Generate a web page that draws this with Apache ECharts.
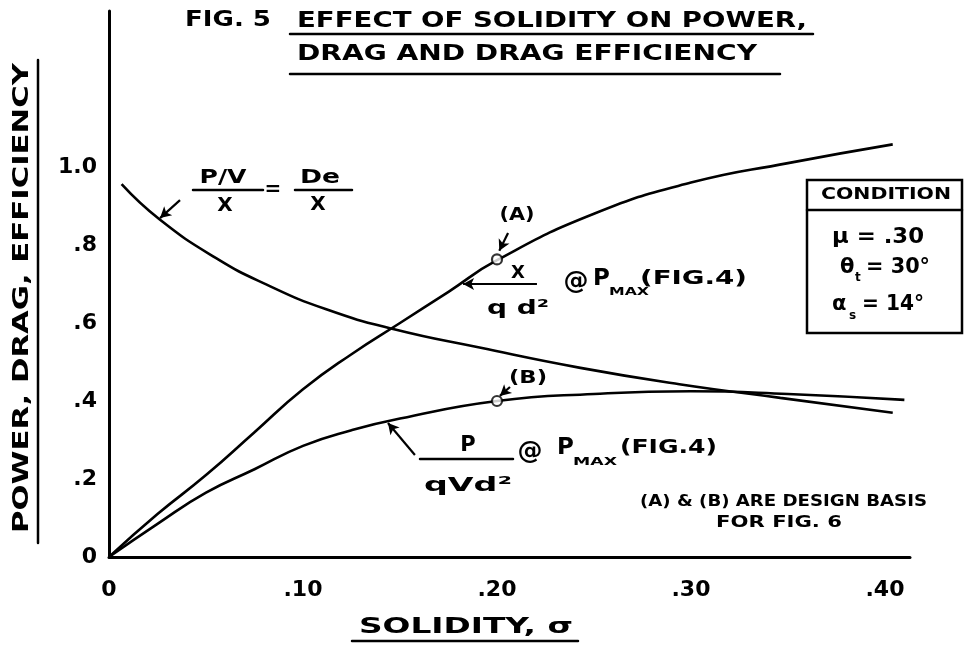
<!DOCTYPE html>
<html><head><meta charset="utf-8">
<script src="https://cdn.jsdelivr.net/npm/echarts@6/dist/echarts.min.js"></script>
<style>html,body{margin:0;padding:0;background:#fff}#c{width:965px;height:649px}</style>
</head><body><div id="c"></div>
<script>
// ---- tick labels ----
const xTicks = [0, 0.1, 0.2, 0.3, 0.4];
const xTickLabels = ['0', '.10', '.20', '.30', '.40'];
const yTicks = [0, 0.2, 0.4, 0.6, 0.8, 1.0];
const yTickLabels = ['0', '.2', '.4', '.6', '.8', '1.0'];

// ---- X / q d^2 @ Pmax (rising curve) ----
const solidityThrust = [0, 0.025, 0.05, 0.075, 0.1, 0.125, 0.15, 0.175, 0.2, 0.25, 0.3, 0.35, 0.404];
const thrustValues   = [0, 0.11, 0.21, 0.32, 0.43, 0.52, 0.60, 0.68, 0.761, 0.88, 0.96, 1.01, 1.058];

// ---- P / q V d^2 @ Pmax ----
const solidityPower = [0, 0.025, 0.05, 0.075, 0.1, 0.125, 0.15, 0.2, 0.25, 0.3, 0.35, 0.41];
const powerValues   = [0, 0.085, 0.165, 0.225, 0.285, 0.325, 0.355, 0.40, 0.418, 0.425, 0.418, 0.403];

// ---- (P/V)/X = De/X (drag efficiency) ----
const solidityEff = [0.0065, 0.026, 0.055, 0.081, 0.112, 0.147, 0.191, 0.243, 0.294, 0.346, 0.404];
const effValues   = [0.956, 0.866, 0.767, 0.699, 0.635, 0.584, 0.537, 0.485, 0.443, 0.408, 0.370];

// ---- design points (A) and (B) ----
const designX = [0.2, 0.2];
const designY = [0.763, 0.40];

// ---- pointer arrows [tail, head] in data units ----
const arrowEff   = [[0.0366, 0.915], [0.0263, 0.869]];
const arrowThr   = [[0.2206, 0.700], [0.1825, 0.700]];
const arrowPow   = [[0.1577, 0.2615], [0.1438, 0.3436]];
const arrowA     = [[0.2057, 0.831], [0.2012, 0.785]];
const arrowB     = [[0.2067, 0.436], [0.2015, 0.413]];

const zip = (xs, ys) => xs.map((x, i) => [x, ys[i]]);
const near = (v, arr, labels) => { for (let i = 0; i < arr.length; i++) if (Math.abs(v - arr[i]) < 1e-6) return labels[i]; return ''; };

const FAM = '"DejaVu Sans", sans-serif';
const cv = document.createElement('canvas').getContext('2d');
function fit(text, size, w, weight) {
  cv.font = (weight || 'bold') + ' ' + size + 'px ' + FAM;
  return w / cv.measureText(text).width;
}
function T(text, x, y, size, opt) {
  opt = opt || {};
  const weight = opt.weight || 'bold';
  const el = {
    type: 'text', x: x, y: y, silent: true,
    style: {
      text: text, font: weight + ' ' + size + 'px ' + FAM, fill: '#000',
      align: opt.align || 'center', textAlign: opt.align || 'center',
      verticalAlign: 'middle', textVerticalAlign: 'middle'
    }
  };
  if (opt.w) el.scaleX = fit(text, size, opt.w, weight);
  if (opt.rot) el.rotation = opt.rot;
  return el;
}
function L(x1, y1, x2, y2, w) {
  return { type: 'line', silent: true, shape: { x1, y1, x2, y2 }, style: { stroke: '#000', lineWidth: w || 2.5, lineCap: 'round' } };
}

const arrowLine = (a) => [{ coord: a[0], symbol: 'none' }, { coord: a[1], symbol: 'arrow' }];

const graphics = [
  // title
  T('FIG. 5', 228, 21, 21, { w: 86 }),
  T('EFFECT OF SOLIDITY ON POWER,', 552, 22, 21, { w: 510 }),
  L(290, 34, 813, 34),
  T('DRAG AND DRAG EFFICIENCY', 527, 55, 21, { w: 460 }),
  L(290, 74, 780, 74),
  // y axis name
  T('POWER, DRAG, EFFICIENCY', 22, 298, 22, { w: 470, rot: Math.PI / 2 }),
  L(38, 60, 38, 543),
  // x axis name
  T('SOLIDITY, σ', 466, 627, 22, { w: 214 }),
  L(352, 641, 578, 641),
  // condition box
  { type: 'rect', silent: true, shape: { x: 807, y: 180, width: 155, height: 153 }, style: { fill: 'none', stroke: '#000', lineWidth: 2.5 } },
  L(807, 210, 962, 210),
  T('CONDITION', 886, 195, 16, { w: 130 }),
  T('μ = .30', 832, 238, 21, { align: 'left', w: 92 }),
  T('θ', 840, 268, 21, { align: 'left' }),
  T('t', 855, 278, 12, { align: 'left' }),
  T('= 30°', 866, 268, 21, { align: 'left', w: 64 }),
  T('α', 832, 305, 21, { align: 'left' }),
  T('s', 849, 316, 12, { align: 'left' }),
  T('= 14°', 862, 305, 21, { align: 'left', w: 62 }),
  // (P/V)/X = De/X
  T('P/V', 223, 178, 20, { w: 47 }),
  L(193, 190, 263, 190),
  T('X', 225, 206, 20),
  T('=', 273, 190, 20),
  T('De', 320, 178, 20, { w: 40 }),
  L(295, 190, 352, 190),
  T('X', 318, 205, 20),
  // (A), (B)
  T('(A)', 517, 215, 18, { w: 35 }),
  T('(B)', 528, 378, 18, { w: 38 }),
  // X / q d^2 @ Pmax (FIG.4)
  T('X', 518, 273, 18),
  T('q d²', 518, 309, 20, { w: 62 }),
  T('@', 576, 282, 25),
  T('P', 593, 279, 23, { align: 'left' }),
  T('MAX', 609, 292, 10, { align: 'left', w: 40 }),
  T('(FIG.4)', 640, 279, 20, { align: 'left', w: 107 }),
  // P / q V d^2 @ Pmax (FIG.4)
  T('P', 468, 446, 21),
  L(420, 459, 513, 459),
  T('qVd²', 468, 486, 20, { w: 88 }),
  T('@', 530, 452, 25),
  T('P', 557, 448, 23, { align: 'left' }),
  T('MAX', 573, 462, 10, { align: 'left', w: 44 }),
  T('(FIG.4)', 620, 448, 20, { align: 'left', w: 97 }),
  // note
  T('(A) & (B) ARE DESIGN BASIS', 640, 502, 16, { align: 'left', w: 287 }),
  T('FOR FIG. 6', 716, 523, 16, { align: 'left', w: 126 })
];

const chart = echarts.init(document.getElementById('c'), null, { renderer: 'canvas' });
const lineBase = { type: 'line', smooth: 0.5, showSymbol: false, symbol: 'none', silent: true,
  lineStyle: { color: '#000', width: 2.6 }, animation: false, z: 3 };

chart.setOption({
  backgroundColor: '#fff',
  animation: false,
  grid: { left: 109, right: 55, top: 11, bottom: 92, containLabel: false, outerBoundsMode: 'none' },
  xAxis: {
    type: 'value', min: 0, max: 0.4129, interval: 0.1,
    axisLine: { show: true, lineStyle: { color: '#000', width: 3 } },
    axisTick: { show: false }, splitLine: { show: false },
    axisLabel: { margin: 22, color: '#000', fontSize: 22, fontWeight: 'bold', fontFamily: FAM,
      showMaxLabel: false, formatter: (v) => near(v, xTicks, xTickLabels) }
  },
  yAxis: {
    type: 'value', min: 0, max: 1.4, interval: 0.2,
    axisLine: { show: true, lineStyle: { color: '#000', width: 3 } },
    axisTick: { show: false }, splitLine: { show: false },
    axisLabel: { margin: 12, color: '#000', fontSize: 22, fontWeight: 'bold', fontFamily: FAM,
      formatter: (v) => near(v, yTicks, yTickLabels) }
  },
  series: [
    Object.assign({}, lineBase, { name: 'X/qd2', data: zip(solidityThrust, thrustValues),
      markLine: { silent: true, symbolSize: [9, 11], lineStyle: { color: '#000', width: 2.2, type: 'solid' }, label: { show: false },
        animation: false, data: [arrowLine(arrowThr), arrowLine(arrowA)] } }),
    Object.assign({}, lineBase, { name: 'P/qVd2', data: zip(solidityPower, powerValues),
      markLine: { silent: true, symbolSize: [9, 11], lineStyle: { color: '#000', width: 2.2, type: 'solid' }, label: { show: false },
        animation: false, data: [arrowLine(arrowPow), arrowLine(arrowB)] } }),
    Object.assign({}, lineBase, { name: 'De/X', data: zip(solidityEff, effValues),
      markLine: { silent: true, symbolSize: [9, 11], lineStyle: { color: '#000', width: 2.2, type: 'solid' }, label: { show: false },
        animation: false, data: [arrowLine(arrowEff)] } }),
    { type: 'scatter', name: 'design', data: zip(designX, designY), symbol: 'circle', symbolSize: 10, silent: true, z: 5,
      itemStyle: { color: '#fff', borderColor: '#000', borderWidth: 2.2 }, animation: false }
  ],
  graphic: graphics
});
</script>
</body></html>
